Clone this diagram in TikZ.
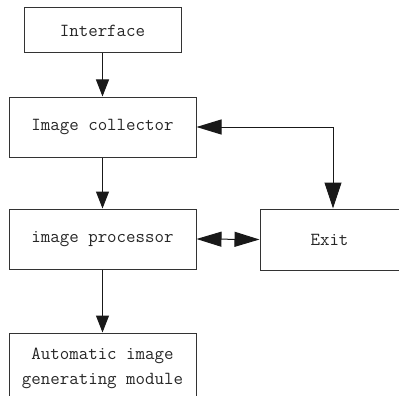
\documentclass[tikz,border=0pt]{standalone}
\usepackage{fontspec}
\usetikzlibrary{arrows.meta}
\begin{document}
\begin{tikzpicture}[x=1pt,y=1pt,
  txt/.style={font=\ttfamily\fontsize{18.4}{25}\selectfont, text=black!85, align=center},
  box/.style={draw=black!80, line width=1pt, minimum width=187pt, minimum height=60pt, inner sep=0pt, txt},
  conn/.style={draw=black!90, line width=1pt},
  headS/.tip={Triangle[length=17pt,width=13pt]},
  headL/.tip={Triangle[length=25pt,width=15pt]},
  headX/.tip={Triangle[length=26pt,width=17pt]}]
\clip (0,0) rectangle (399,-396);
\fill[white] (0,0) rectangle (399,-396);
\node[box, minimum width=157pt, minimum height=45pt] (iface) at (102.5,-30.5) {Interface};
\node[box] (coll) at (102.5,-127) {Image collector};
\node[box] (proc) at (102.5,-239) {image processor};
\node[box, minimum width=139pt, minimum height=61pt] (exit) at (329.5,-239.5) {Exit};
\node[box, minimum height=90pt] (auto) at (102.5,-378) {};
\node[txt, inner sep=0pt] (autotext) at (102.5,-368) {Automatic image\\generating module};
\coordinate (corner) at (333,-127);
\draw[conn, -{headS}] (iface.south) -- (coll.north);
\draw[conn, -{headS}] (coll.south) -- (proc.north);
\draw[conn, -{headS}] (proc.south) -- (auto.north);
\draw[conn, {headL}-{headL}] (proc.east) -- (exit.west);
\draw[conn, {headL}-{headX}] (coll.east) -- (corner) -- (corner |- exit.north);
\end{tikzpicture}
\end{document}
